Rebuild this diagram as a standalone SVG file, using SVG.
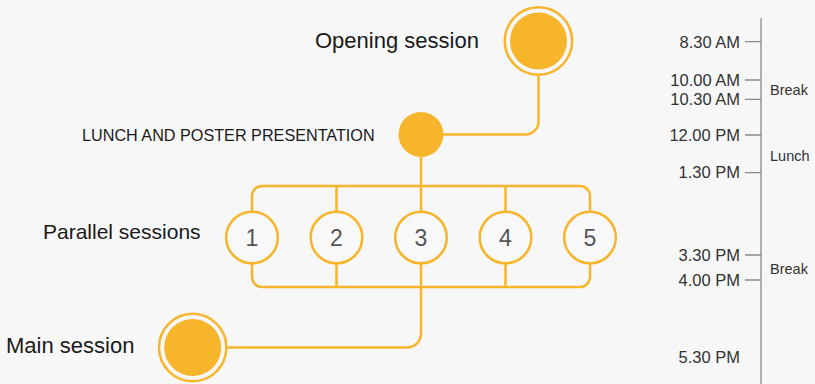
<svg xmlns="http://www.w3.org/2000/svg" width="815" height="384" viewBox="0 0 815 384">
  <defs>
    <style>
      .bg { fill: #f7f7f7; }
      .line { fill: none; stroke: #f7b52b; stroke-width: 2.5; }
      .ring { fill: none; stroke: #f7b52b; stroke-width: 2.5; }
      .dot { fill: #f7b52b; }
      .slot { fill: #f8f8f8; stroke: #f7b52b; stroke-width: 2.5; }
      .num { font-family: "Liberation Sans", Arial, sans-serif; font-size: 23px; fill: #555555; text-anchor: middle; }
      .label { font-family: "Liberation Sans", Arial, sans-serif; fill: #1a1a1a; }
      .time { font-family: "Liberation Sans", Arial, sans-serif; font-size: 16.5px; fill: #333333; text-anchor: end; }
      .note { font-family: "Liberation Sans", Arial, sans-serif; font-size: 14.5px; fill: #333333; }
      .axis { fill: none; stroke: #8a8a8a; stroke-width: 1.3; }
    </style>
  </defs>
  <rect class="bg" x="0" y="0" width="815" height="384"/>

  <g id="connectors">
    <path class="line" d="M 538.5 75 V 121.5 A 13 13 0 0 1 525.5 134.5 H 443"/>
    <path class="line" d="M 421 157 V 186"/>
    <path class="line" d="M 252 211 V 196 A 10 10 0 0 1 262 186 H 580 A 10 10 0 0 1 590 196 V 211"/>
    <path class="line" d="M 252 264 V 277 A 10 10 0 0 0 262 287 H 580 A 10 10 0 0 0 590 277 V 264"/>
    <path class="line" d="M 336.5 186 V 211 M 421 186 V 211 M 505.5 186 V 211"/>
    <path class="line" d="M 336.5 264 V 287 M 505.5 264 V 287"/>
    <path class="line" d="M 421 264 V 333.5 A 14 14 0 0 1 407 347.5 H 227"/>
  </g>

  <g id="opening-session">
    <circle class="ring" cx="538.5" cy="41" r="33.7"/>
    <circle class="dot" cx="538.5" cy="41" r="28.5"/>
    <text class="label" x="315" y="48" font-size="22">Opening session</text>
  </g>

  <g id="lunch-poster">
    <circle class="dot" cx="421" cy="134.5" r="22.5"/>
    <text class="label" x="82" y="140.5" font-size="16.2">LUNCH AND POSTER PRESENTATION</text>
  </g>

  <g id="parallel-sessions-label">
    <text class="label" x="43" y="238.5" font-size="21">Parallel sessions</text>
  </g>

  <g id="session-1">
    <circle class="slot" cx="252" cy="237.5" r="25.8"/>
    <text class="num" x="252" y="245.5">1</text>
  </g>
  <g id="session-2">
    <circle class="slot" cx="336.5" cy="237.5" r="25.8"/>
    <text class="num" x="336.5" y="245.5">2</text>
  </g>
  <g id="session-3">
    <circle class="slot" cx="421" cy="237.5" r="25.8"/>
    <text class="num" x="421" y="245.5">3</text>
  </g>
  <g id="session-4">
    <circle class="slot" cx="505.5" cy="237.5" r="25.8"/>
    <text class="num" x="505.5" y="245.5">4</text>
  </g>
  <g id="session-5">
    <circle class="slot" cx="590" cy="237.5" r="25.8"/>
    <text class="num" x="590" y="245.5">5</text>
  </g>

  <g id="main-session">
    <circle class="ring" cx="192.7" cy="347.5" r="33.7"/>
    <circle class="dot" cx="192.7" cy="347.5" r="28.5"/>
    <text class="label" x="6" y="353" font-size="22">Main session</text>
  </g>

  <g id="timeline">
    <path class="axis" d="M 761 18 V 384"/>
    <path class="axis" d="M 745 41.7 H 761 M 745 80 H 761 M 745 99.3 H 761 M 745 135 H 761 M 745 172.7 H 761 M 745 255 H 761 M 745 280 H 761"/>
    <text class="time" x="740" y="47.5">8.30 AM</text>
    <text class="time" x="740" y="85.5">10.00 AM</text>
    <text class="time" x="740" y="105">10.30 AM</text>
    <text class="time" x="740" y="140.5">12.00 PM</text>
    <text class="time" x="740" y="178">1.30 PM</text>
    <text class="time" x="740" y="260.5">3.30 PM</text>
    <text class="time" x="740" y="285.5">4.00 PM</text>
    <text class="time" x="740" y="363">5.30 PM</text>
    <text class="note" x="770" y="95">Break</text>
    <text class="note" x="770" y="161">Lunch</text>
    <text class="note" x="770" y="273.5">Break</text>
  </g>
</svg>
